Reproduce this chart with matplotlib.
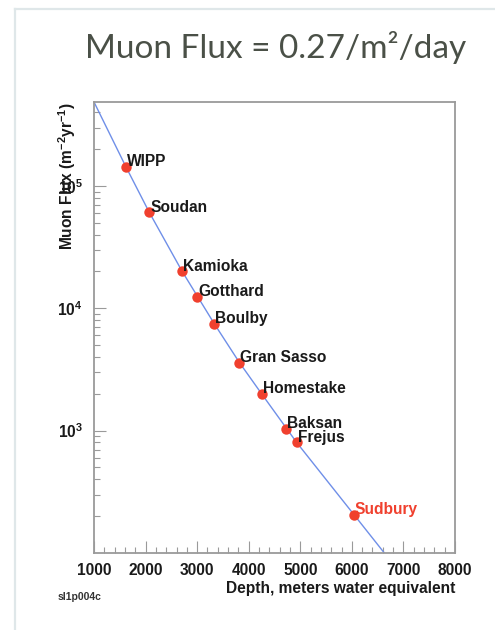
import matplotlib
matplotlib.use("Agg")
import matplotlib.pyplot as plt
from matplotlib.lines import Line2D
from matplotlib.ticker import FixedLocator, LogLocator, NullFormatter, MultipleLocator

plt.rcParams['font.family'] = ['Liberation Sans', 'DejaVu Sans']
plt.rcParams['mathtext.fontset'] = 'custom'
plt.rcParams['mathtext.rm'] = 'Liberation Sans:bold'
plt.rcParams['mathtext.bf'] = 'Liberation Sans:bold'
plt.rcParams['mathtext.default'] = 'regular'

# ---- data ----
sites = ["WIPP", "Soudan", "Kamioka", "Gotthard", "Boulby", "Gran Sasso",
         "Homestake", "Baksan", "Frejus", "Sudbury"]
depth = [1620, 2070, 2710, 3000, 3330, 3820, 4250, 4730, 4930, 6040]
flux = [1.43e5, 6.1e4, 2.0e4, 1.24e4, 7.5e3, 3.6e3, 2.0e3, 1.04e3, 800, 206]

line_depth = [1000, 1620, 2070, 2710, 3330, 3820, 4250, 4930, 6040, 6630]
line_flux = [4.85e5, 1.43e5, 6.1e4, 2.0e4, 7.5e3, 3.6e3, 2.0e3, 800, 206, 100]

xticks = [1000, 2000, 3000, 4000, 5000, 6000, 7000, 8000]
yticks = [1e3, 1e4, 1e5]
ytick_labels = [r'$\mathbf{10^{3}}$', r'$\mathbf{10^{4}}$', r'$\mathbf{10^{5}}$']

title = "Muon Flux = 0.27/m\u00b2/day"
xlabel = "Depth, meters water equivalent"
ylabel = r"Muon Flux (m$^{-2}$yr$^{-1}$)"
tag = "sl1p004c"

# ---- styles ----
red = "#f0402e"
blue = "#6f8fe8"
frame = "#9a9a9a"

fig = plt.figure(figsize=(4.95, 6.3), dpi=100)
ax = fig.add_axes([94/495, 1-553/630, 361/495, 451/630])

ax.plot(line_depth, line_flux, color=blue, lw=1.0, zorder=2)
ax.plot(depth, flux, 'o', color=red, ms=7.5, mec='none', zorder=3)
for name, d, f in zip(sites, depth, flux):
    ax.annotate(name, (d, f), xytext=(0.7, 3.6), textcoords='offset points',
                ha='left', va='center', fontsize=11.2, fontweight='bold',
                color=(red if name == "Sudbury" else "#1a1a1a"), zorder=4)

ax.set_yscale('log')
ax.set_xlim(1000, 8000)
ax.set_ylim(100, 4.85e5)

ax.xaxis.set_major_locator(FixedLocator(xticks))
ax.xaxis.set_minor_locator(MultipleLocator(200))
ax.set_xticklabels([str(t) for t in xticks])
ax.yaxis.set_major_locator(FixedLocator(yticks))
ax.set_yticklabels(ytick_labels)
ax.yaxis.set_minor_locator(LogLocator(base=10, subs=range(2, 10)))
ax.yaxis.set_minor_formatter(NullFormatter())

ax.tick_params(which='major', direction='in', length=8.5, width=0.8, color=frame,
               labelsize=11.2, pad=7, labelcolor='#1a1a1a')
ax.tick_params(which='minor', direction='in', length=4, width=0.8, color=frame)
ax.tick_params(axis='y', which='major', pad=8)
for lab in ax.get_xticklabels() + ax.get_yticklabels():
    lab.set_fontweight('bold')
for sp in ax.spines.values():
    sp.set_color(frame)
    sp.set_linewidth(1.3)

ax.set_xlabel(xlabel, loc='right', fontsize=11.2, fontweight='bold', color='#1a1a1a')
ax.xaxis.set_label_coords(1.0, -0.062)
ax.set_ylabel(ylabel, loc='top', fontsize=11.2, fontweight='bold', color='#1a1a1a')
ax.yaxis.set_label_coords(-0.045, 1.0)

fig.text(58/495, 1-597/630, tag, fontsize=7.5, fontweight='bold', color='#333333',
         ha='left', va='center')

fig.text(276/495, 1-48/630, title, fontsize=24, fontfamily=['Lato', 'DejaVu Sans'],
         fontweight='normal', color='#4a5047', ha='center', va='center')

# slide frame lines
fig.add_artist(Line2D([15/495, 1.0], [1-9/630, 1-9/630], transform=fig.transFigure,
                      color='#dfe7e9', lw=1.6))
fig.add_artist(Line2D([15/495, 15/495], [0, 1-9/630], transform=fig.transFigure,
                      color='#dfe7e9', lw=1.6))

fig.savefig("out.png", dpi=100)
